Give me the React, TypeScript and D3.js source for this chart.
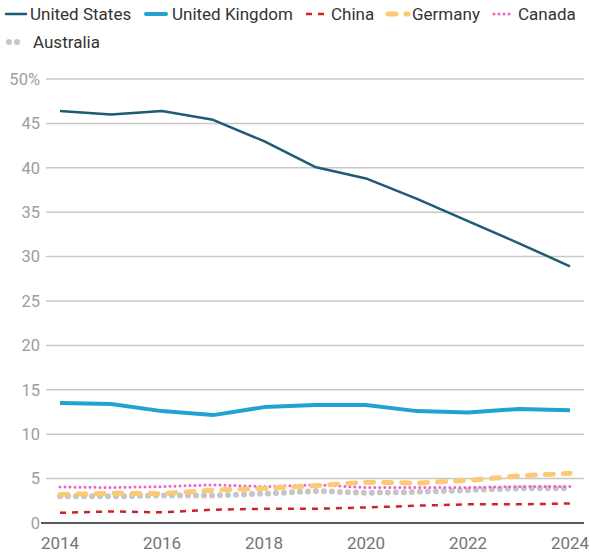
import React from "react";
import * as d3 from "d3";

const years = [2014, 2015, 2016, 2017, 2018, 2019, 2020, 2021, 2022, 2023, 2024];
const unitedStates = [46.4, 46.0, 46.4, 45.4, 43.0, 40.1, 38.8, 36.5, 34.0, 31.5, 28.9];
const unitedKingdom = [13.5, 13.4, 12.6, 12.15, 13.05, 13.3, 13.3, 12.6, 12.45, 12.85, 12.7];
const china = [1.15, 1.3, 1.2, 1.5, 1.6, 1.6, 1.75, 1.95, 2.1, 2.1, 2.2];
const germany = [3.2, 3.35, 3.3, 3.7, 3.9, 4.2, 4.6, 4.5, 4.8, 5.3, 5.6];
const canada = [4.05, 4.0, 4.1, 4.3, 4.1, 4.3, 4.0, 4.0, 4.0, 4.1, 4.1];
const australia = [3.0, 3.0, 3.1, 3.1, 3.3, 3.6, 3.4, 3.5, 3.7, 3.9, 3.9];
const yTicks = [0, 5, 10, 15, 20, 25, 30, 35, 40, 45, 50];
const xTicks = [2014, 2016, 2018, 2020, 2022, 2024];

type S = { name: string; values: number[]; color: string; width: number; dash?: string; cap?: string; legendW: number };

const series: S[] = [
  { name: "United States", values: unitedStates, color: "#1d5c74", width: 2.5, legendW: 20 },
  { name: "United Kingdom", values: unitedKingdom, color: "#22a2cf", width: 4, legendW: 20 },
  { name: "China", values: china, color: "#c9252b", width: 2.5, dash: "6,6", legendW: 20 },
  { name: "Germany", values: germany, color: "#fcc976", width: 5, dash: "8,10", cap: "round", legendW: 20 },
  { name: "Canada", values: canada, color: "#f060c8", width: 3, dash: "0,5", cap: "round", legendW: 20 },
  { name: "Australia", values: australia, color: "#c6c6c6", width: 6, dash: "0,8", cap: "round", legendW: 14 },
];

const legendPos = [
  { x: 6, tx: 30, y: 14 },
  { x: 146, tx: 172, y: 14 },
  { x: 306, tx: 331, y: 14 },
  { x: 388, tx: 412, y: 14 },
  { x: 494, tx: 518, y: 14 },
  { x: 9, tx: 33, y: 42 },
];

export default function App() {
  const W = 590, H = 560;
  const x = d3.scaleLinear().domain([2014, 2024]).range([60, 570]);
  const y = d3.scaleLinear().domain([0, 50]).range([523, 79]);
  const line = d3
    .line<number>()
    .x((_, i) => x(years[i]))
    .y((d) => y(d))
    .curve(d3.curveLinear);
  const font = "Roboto, 'Noto Sans', sans-serif";
  return (
    <svg width={W} height={H} style={{ position: "absolute", left: 0, top: 0 }} fontFamily={font}>
      <rect width={W} height={H} fill="#fff" />
      {yTicks.map((t) => (
        <g key={t}>
          {t > 0 && <line x1={46} x2={584} y1={y(t)} y2={y(t)} stroke="#c8c8c8" strokeWidth={1.5} />}
          <text x={40} y={y(t)} dy="0.35em" textAnchor="end" fontSize={16.5} fill="#9e9e9e">
            {t === 50 ? "50%" : t}
          </text>
        </g>
      ))}
      <line x1={41} x2={584} y1={y(0)} y2={y(0)} stroke="#222" strokeWidth={1.5} />
      {xTicks.map((t) => (
        <text key={t} x={x(t)} y={549} textAnchor="middle" fontSize={17} fill="#757575">
          {t}
        </text>
      ))}
      {series
        .slice()
        .reverse()
        .map((s) => (
          <path
            key={s.name}
            d={line(s.values) || ""}
            fill="none"
            stroke={s.color}
            strokeWidth={s.width}
            strokeDasharray={s.dash}
            strokeLinecap={(s.cap as any) || "butt"}
            strokeLinejoin="round"
          />
        ))}
      {series.map((s, i) => {
        const p = legendPos[i];
        return (
          <g key={s.name}>
            <line
              x1={p.x}
              x2={p.x + s.legendW}
              y1={p.y}
              y2={p.y}
              stroke={s.color}
              strokeWidth={s.width}
              strokeDasharray={s.dash}
              strokeLinecap={(s.cap as any) || (s.dash ? "butt" : "round")}
            />
            <text x={p.tx} y={p.y} dy="0.35em" fontSize={17} fill="#333">
              {s.name}
            </text>
          </g>
        );
      })}
    </svg>
  );
}
